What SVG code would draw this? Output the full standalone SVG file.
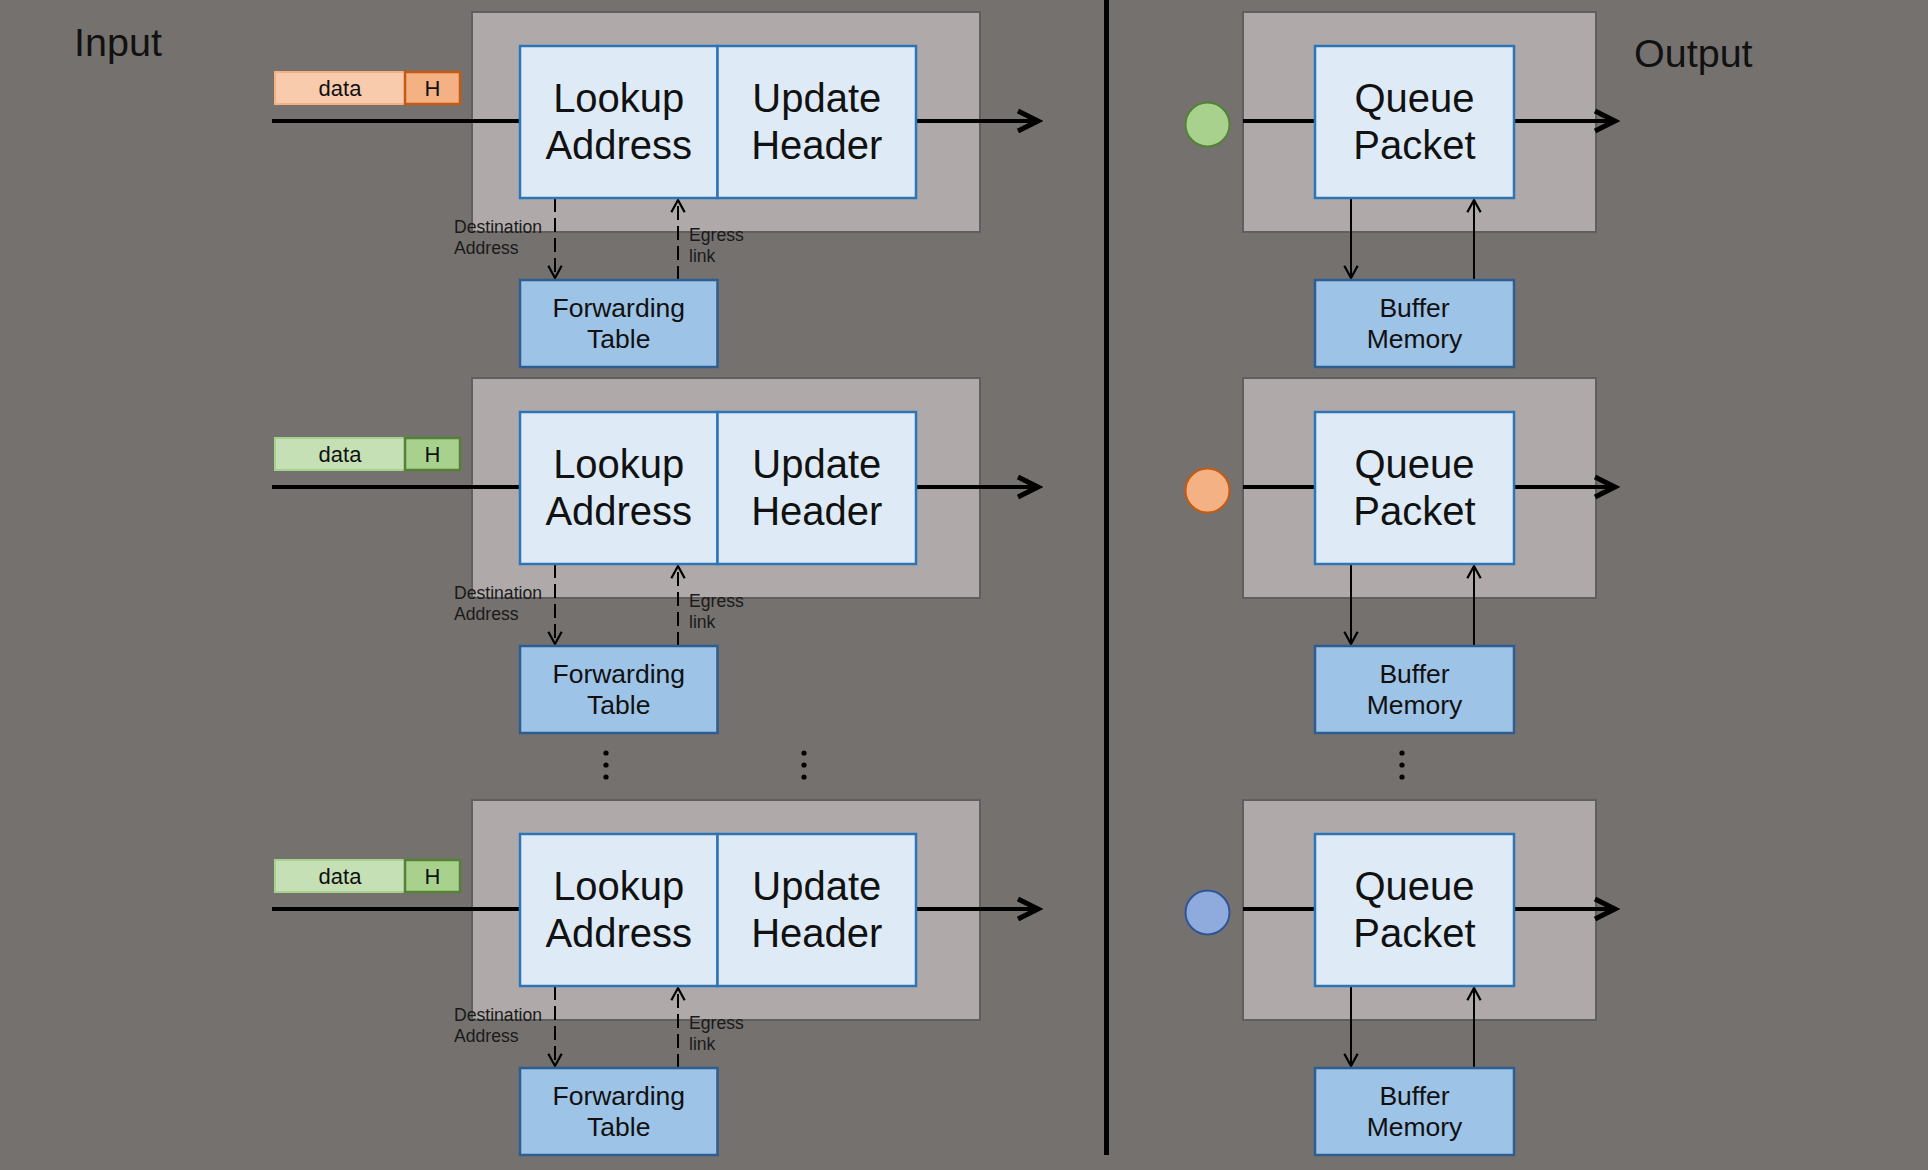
<svg xmlns="http://www.w3.org/2000/svg" width="1928" height="1170" viewBox="0 0 1928 1170">
<defs>
<style>
text{font-family:"Liberation Sans",Arial,sans-serif;fill:#111;}
.title{font-size:39.5px;}
.big{font-size:40px;text-anchor:middle;}
.mid{font-size:26.5px;text-anchor:middle;}
.pkt{font-size:22px;text-anchor:middle;}
.lbl{font-size:17.6px;fill:#1a1a1a;}
.outer{fill:#afaaa9;stroke:#5f5f5f;stroke-width:2;}
.inner{fill:#deebf7;stroke:#2e75b6;stroke-width:2.5;}
.store{fill:#9dc3e6;stroke:#2e5d8f;stroke-width:2.5;}
.dataO{fill:#f8cbad;stroke:#f4b183;stroke-width:2;}
.hO{fill:#f4b183;stroke:#c55a11;stroke-width:2.5;}
.dataG{fill:#c5e0b4;stroke:#a9d18e;stroke-width:2;}
.hG{fill:#a9d18e;stroke:#548235;stroke-width:2.5;}
.flow{stroke:#000;stroke-width:4;fill:none;}
.dash{stroke:#000;stroke-width:2;fill:none;stroke-dasharray:14 6;}
.solid{stroke:#000;stroke-width:2;fill:none;}
.dot{fill:#000;}
</style>
<marker id="bigArrow" markerUnits="userSpaceOnUse" markerWidth="30" markerHeight="30" viewBox="-20 -12 24 24" refX="0" refY="0" orient="auto">
<path d="M-16,-8 L0,0 L-16,8" fill="none" stroke="#000" stroke-width="4" stroke-dasharray="none"/>
</marker>
<marker id="smallArrow" markerUnits="userSpaceOnUse" markerWidth="20" markerHeight="20" viewBox="-14 -9 18 18" refX="0" refY="0" orient="auto">
<path d="M-11,-6 L0,0 L-11,6" fill="none" stroke="#000" stroke-width="2" stroke-dasharray="none"/>
</marker>
</defs>
<rect x="0" y="0" width="1928" height="1170" fill="#75716f"/>

<g id="titles">
<text class="title" x="74" y="56">Input</text>
<text class="title" x="1634" y="67">Output</text>
</g>

<g id="divider"><rect x="1104" y="0" width="5" height="1155" fill="#000"/></g>

<g id="stages">
<g id="in1-stage"><rect class="outer" x="472" y="12" width="508" height="220"/></g>
<g id="in2-stage"><rect class="outer" x="472" y="378" width="508" height="220"/></g>
<g id="in3-stage"><rect class="outer" x="472" y="800" width="508" height="220"/></g>
<g id="out1-stage"><rect class="outer" x="1243" y="12" width="353" height="220"/></g>
<g id="out2-stage"><rect class="outer" x="1243" y="378" width="353" height="220"/></g>
<g id="out3-stage"><rect class="outer" x="1243" y="800" width="353" height="220"/></g>
</g>

<g id="connectors">
<line class="flow" x1="272" y1="121" x2="520" y2="121"/>
<line class="flow" x1="916" y1="121" x2="1038" y2="121" marker-end="url(#bigArrow)"/>
<line class="dash" x1="555" y1="198" x2="555" y2="278" marker-end="url(#smallArrow)"/>
<line class="dash" x1="678" y1="280" x2="678" y2="200" marker-end="url(#smallArrow)"/>
<line class="flow" x1="272" y1="487" x2="520" y2="487"/>
<line class="flow" x1="916" y1="487" x2="1038" y2="487" marker-end="url(#bigArrow)"/>
<line class="dash" x1="555" y1="564" x2="555" y2="644" marker-end="url(#smallArrow)"/>
<line class="dash" x1="678" y1="646" x2="678" y2="566" marker-end="url(#smallArrow)"/>
<line class="flow" x1="272" y1="909" x2="520" y2="909"/>
<line class="flow" x1="916" y1="909" x2="1038" y2="909" marker-end="url(#bigArrow)"/>
<line class="dash" x1="555" y1="986" x2="555" y2="1066" marker-end="url(#smallArrow)"/>
<line class="dash" x1="678" y1="1068" x2="678" y2="988" marker-end="url(#smallArrow)"/>
<line class="flow" x1="1243" y1="121" x2="1315" y2="121"/>
<line class="flow" x1="1514" y1="121" x2="1615" y2="121" marker-end="url(#bigArrow)"/>
<line class="solid" x1="1351" y1="198" x2="1351" y2="278" marker-end="url(#smallArrow)"/>
<line class="solid" x1="1474" y1="280" x2="1474" y2="200" marker-end="url(#smallArrow)"/>
<line class="flow" x1="1243" y1="487" x2="1315" y2="487"/>
<line class="flow" x1="1514" y1="487" x2="1615" y2="487" marker-end="url(#bigArrow)"/>
<line class="solid" x1="1351" y1="564" x2="1351" y2="644" marker-end="url(#smallArrow)"/>
<line class="solid" x1="1474" y1="646" x2="1474" y2="566" marker-end="url(#smallArrow)"/>
<line class="flow" x1="1243" y1="909" x2="1315" y2="909"/>
<line class="flow" x1="1514" y1="909" x2="1615" y2="909" marker-end="url(#bigArrow)"/>
<line class="solid" x1="1351" y1="986" x2="1351" y2="1066" marker-end="url(#smallArrow)"/>
<line class="solid" x1="1474" y1="1068" x2="1474" y2="988" marker-end="url(#smallArrow)"/>
</g>

<g id="connector-labels">
<text class="lbl" x="454" y="233">Destination</text><text class="lbl" x="454" y="254">Address</text>
<text class="lbl" x="689" y="241">Egress</text><text class="lbl" x="689" y="262">link</text>
<text class="lbl" x="454" y="599">Destination</text><text class="lbl" x="454" y="620">Address</text>
<text class="lbl" x="689" y="607">Egress</text><text class="lbl" x="689" y="628">link</text>
<text class="lbl" x="454" y="1021">Destination</text><text class="lbl" x="454" y="1042">Address</text>
<text class="lbl" x="689" y="1029">Egress</text><text class="lbl" x="689" y="1050">link</text>
</g>

<g id="nodes">
<g id="in1-packet">
<rect class="dataO" x="275" y="72" width="130" height="32"/><text class="pkt" x="340" y="96">data</text>
<rect class="hO" x="405" y="72" width="55" height="32"/><text class="pkt" x="432.5" y="96">H</text>
</g>
<g id="in1-lookup"><rect class="inner" x="520" y="46" width="197.5" height="152"/><text class="big" x="618.75" y="111.5">Lookup</text><text class="big" x="618.75" y="159">Address</text></g>
<g id="in1-update"><rect class="inner" x="717.5" y="46" width="198.5" height="152"/><text class="big" x="816.75" y="111.5">Update</text><text class="big" x="816.75" y="159">Header</text></g>
<g id="in1-table"><rect class="store" x="520" y="280" width="197.5" height="87"/><text class="mid" x="618.75" y="316.5">Forwarding</text><text class="mid" x="618.75" y="347.5">Table</text></g>
<g id="in2-packet">
<rect class="dataG" x="275" y="438" width="130" height="32"/><text class="pkt" x="340" y="462">data</text>
<rect class="hG" x="405" y="438" width="55" height="32"/><text class="pkt" x="432.5" y="462">H</text>
</g>
<g id="in2-lookup"><rect class="inner" x="520" y="412" width="197.5" height="152"/><text class="big" x="618.75" y="477.5">Lookup</text><text class="big" x="618.75" y="525">Address</text></g>
<g id="in2-update"><rect class="inner" x="717.5" y="412" width="198.5" height="152"/><text class="big" x="816.75" y="477.5">Update</text><text class="big" x="816.75" y="525">Header</text></g>
<g id="in2-table"><rect class="store" x="520" y="646" width="197.5" height="87"/><text class="mid" x="618.75" y="682.5">Forwarding</text><text class="mid" x="618.75" y="713.5">Table</text></g>
<g id="in3-packet">
<rect class="dataG" x="275" y="860" width="130" height="32"/><text class="pkt" x="340" y="884">data</text>
<rect class="hG" x="405" y="860" width="55" height="32"/><text class="pkt" x="432.5" y="884">H</text>
</g>
<g id="in3-lookup"><rect class="inner" x="520" y="834" width="197.5" height="152"/><text class="big" x="618.75" y="899.5">Lookup</text><text class="big" x="618.75" y="947">Address</text></g>
<g id="in3-update"><rect class="inner" x="717.5" y="834" width="198.5" height="152"/><text class="big" x="816.75" y="899.5">Update</text><text class="big" x="816.75" y="947">Header</text></g>
<g id="in3-table"><rect class="store" x="520" y="1068" width="197.5" height="87"/><text class="mid" x="618.75" y="1104.5">Forwarding</text><text class="mid" x="618.75" y="1135.5">Table</text></g>

<g id="out1-port"><circle cx="1207.5" cy="124.5" r="22" fill="#a9d18e" stroke="#548235" stroke-width="2"/></g>
<g id="out1-queue"><rect class="inner" x="1315" y="46" width="199" height="152"/><text class="big" x="1414.5" y="111.5">Queue</text><text class="big" x="1414.5" y="159">Packet</text></g>
<g id="out1-buffer"><rect class="store" x="1315" y="280" width="199" height="87"/><text class="mid" x="1414.5" y="316.5">Buffer</text><text class="mid" x="1414.5" y="348">Memory</text></g>

<g id="out2-port"><circle cx="1207.5" cy="490.5" r="22" fill="#f4b183" stroke="#c55a11" stroke-width="2"/></g>
<g id="out2-queue"><rect class="inner" x="1315" y="412" width="199" height="152"/><text class="big" x="1414.5" y="477.5">Queue</text><text class="big" x="1414.5" y="525">Packet</text></g>
<g id="out2-buffer"><rect class="store" x="1315" y="646" width="199" height="87"/><text class="mid" x="1414.5" y="682.5">Buffer</text><text class="mid" x="1414.5" y="714">Memory</text></g>

<g id="out3-port"><circle cx="1207.5" cy="912.5" r="22" fill="#8faadc" stroke="#2f5597" stroke-width="2"/></g>
<g id="out3-queue"><rect class="inner" x="1315" y="834" width="199" height="152"/><text class="big" x="1414.5" y="899.5">Queue</text><text class="big" x="1414.5" y="947">Packet</text></g>
<g id="out3-buffer"><rect class="store" x="1315" y="1068" width="199" height="87"/><text class="mid" x="1414.5" y="1104.5">Buffer</text><text class="mid" x="1414.5" y="1136">Memory</text></g>
</g>

<g id="ellipses">
<circle class="dot" cx="606" cy="753" r="2.6"/><circle class="dot" cx="606" cy="765" r="2.6"/><circle class="dot" cx="606" cy="777" r="2.6"/>
<circle class="dot" cx="804" cy="753" r="2.6"/><circle class="dot" cx="804" cy="765" r="2.6"/><circle class="dot" cx="804" cy="777" r="2.6"/>
<circle class="dot" cx="1402" cy="753" r="2.6"/><circle class="dot" cx="1402" cy="765" r="2.6"/><circle class="dot" cx="1402" cy="777" r="2.6"/>
</g>
</svg>
